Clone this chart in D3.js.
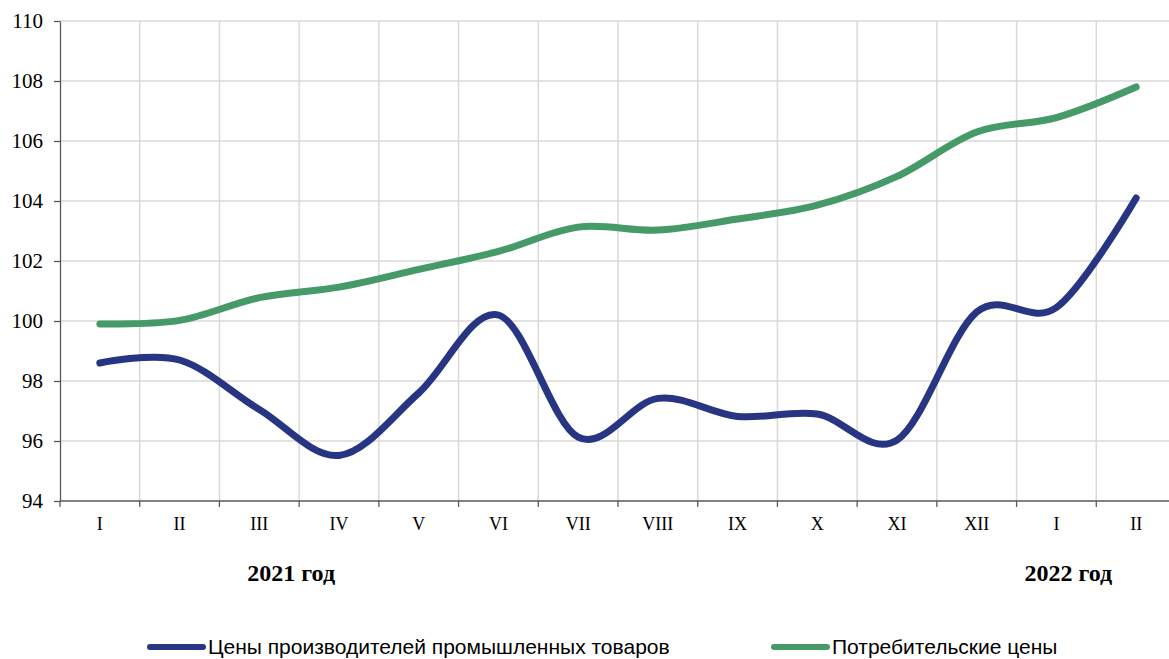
<!DOCTYPE html>
<meta charset="utf-8">
<style>
body { margin: 0; background: #fff; }
.grid line { stroke: #d9d9d9; stroke-width: 1.5px; }
.axis text { font: 21px "Liberation Serif", "Times New Roman", serif; fill: #000; }
.axis path, .axis line { stroke: #595959; stroke-width: 1.3px; }
.xaxis text { font-size: 18px; }
.year { font: bold 24px "Liberation Serif", serif; fill: #000; }
.legend text { font: 21px "Liberation Sans", Arial, sans-serif; fill: #000; }
.series { fill: none; stroke-width: 7px; stroke-linecap: round; stroke-linejoin: round; }
</style>
<body>
<script src="https://cdn.jsdelivr.net/npm/d3@7"></script>
<script>

var months = ["I","II","III","IV","V","VI","VII","VIII","IX","X","XI","XII","I","II"]
var producer = [98.6, 98.7, 97.05, 95.52, 97.6, 100.2, 96.13, 97.42, 96.82, 96.9, 96.03, 100.3, 100.45, 104.1]
var consumer = [99.9, 100.02, 100.78, 101.13, 101.72, 102.32, 103.13, 103.03, 103.4, 103.86, 104.82, 106.3, 106.78, 107.8]
var yTicks = [94, 96, 98, 100, 102, 104, 106, 108, 110]
var years = [{label: "2021 год", at: 2.4}, {label: "2022 год", at: 12.15}]
var series = [
  {name: "Цены производителей промышленных товаров", values: producer, color: "#283583"},
  {name: "Потребительские цены", values: consumer, color: "#459a68"}
]

var width = 1169, height = 659
var plotL = 60, plotR = 1176, plotT = 21, plotB = 501

var svg = d3.select("body").append("svg")
    .attr("width", width)
    .attr("height", height)

var x = d3.scaleBand().domain(d3.range(months.length)).range([plotL, plotR])
var y = d3.scaleLinear().domain([94, 110]).range([plotB, plotT])
// centre of band i (works for fractional positions too)
var cx = function(i) { return plotL + (i + 0.5) * x.step() }

// grid
var grid = svg.append("g").attr("class", "grid")
grid.selectAll(".h").data(yTicks.slice(1))
  .enter().append("line")
    .attr("x1", plotL).attr("x2", width)
    .attr("y1", d => y(d)).attr("y2", d => y(d))
grid.selectAll(".v").data(d3.range(1, months.length))
  .enter().append("line")
    .attr("x1", d => x(d)).attr("x2", d => x(d))
    .attr("y1", plotT).attr("y2", plotB)

// y axis
svg.append("g").attr("class", "axis")
    .attr("transform", "translate(" + plotL + ",0)")
    .call(d3.axisLeft(y).tickValues(yTicks).tickSize(6).tickPadding(11).tickSizeOuter(0))

// x axis: labels centred in bands, ticks on the band edges
var xa = svg.append("g").attr("class", "axis xaxis")
    .attr("transform", "translate(0," + plotB + ")")
xa.call(d3.axisBottom(x).tickFormat(i => months[i]).tickSize(0).tickPadding(16).tickSizeOuter(0))
xa.select(".domain").attr("d", "M" + plotL + ",0H" + width)
xa.selectAll(".edge").data(d3.range(0, months.length))
  .enter().append("line")
    .attr("class", "edge")
    .attr("x1", d => x(d)).attr("x2", d => x(d))
    .attr("y1", 0).attr("y2", 6)

svg.selectAll(".year").data(years)
  .enter().append("text")
    .attr("class", "year")
    .attr("x", d => cx(d.at))
    .attr("y", 581)
    .attr("text-anchor", "middle")
    .text(d => d.label)

// lines
var line = d3.line()
    .x((d, i) => cx(i))
    .y(d => y(d))
    .curve(d3.curveCardinal.tension(0))

svg.selectAll(".series").data(series)
  .enter().append("path")
    .attr("class", "series")
    .attr("stroke", d => d.color)
    .attr("d", d => line(d.values))

// legend
var legendX = [147, 771]
var lg = svg.selectAll(".legend").data(series)
  .enter().append("g")
    .attr("class", "legend")
    .attr("transform", (d, i) => "translate(" + legendX[i] + ",647)")
lg.append("line")
    .attr("x1", 3).attr("x2", 56)
    .attr("stroke", d => d.color)
    .attr("stroke-width", 6)
    .attr("stroke-linecap", "round")
lg.append("text")
    .attr("x", 61)
    .attr("dy", "0.32em")
    .text(d => d.name)
</script>
